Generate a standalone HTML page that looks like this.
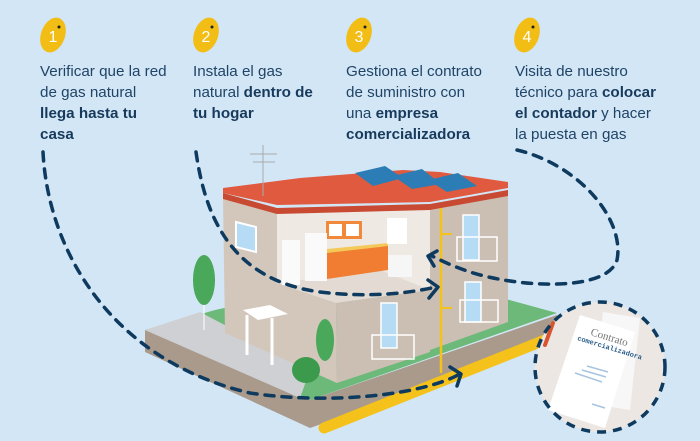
<!DOCTYPE html>
<html><head><meta charset="utf-8"><style>
html,body{margin:0;padding:0}
body{width:700px;height:441px;overflow:hidden;background:#d3e6f6;font-family:"Liberation Sans",sans-serif;position:relative}
.col{position:absolute;top:61px;font-size:15.2px;line-height:21px;color:#1f4466}
.col b{color:#173a5c}
svg{position:absolute;left:0;top:0}
</style></head><body>
<svg width="700" height="441" viewBox="0 0 700 441">
<g fill="#f2bd14">
<ellipse cx="53" cy="35" rx="12" ry="18" transform="rotate(20 53 35)"/>
<ellipse cx="206" cy="35" rx="12" ry="18" transform="rotate(20 206 35)"/>
<ellipse cx="359" cy="35" rx="12" ry="18" transform="rotate(20 359 35)"/>
<ellipse cx="527" cy="35" rx="12" ry="18" transform="rotate(20 527 35)"/>
</g>
<g fill="#fff" font-size="16" font-family="Liberation Sans" text-anchor="middle">
<text x="53" y="42">1</text><text x="206" y="42">2</text><text x="359" y="42">3</text><text x="527" y="42">4</text>
</g>
<g fill="#222"><circle cx="59" cy="27" r="1.5"/><circle cx="212" cy="27" r="1.5"/><circle cx="365" cy="27" r="1.5"/><circle cx="533" cy="27" r="1.5"/></g>

<polygon points="145,330 310,400 557,315 557,340 310,428 145,352" fill="#a99a8b"/>
<polygon points="145,330 215,310 400,270 557,313 310,400" fill="#6cb97a"/>
<polygon points="145,330 200,312 310,370 300,398" fill="#cfd0d4"/>
<line x1="324" y1="428" x2="545" y2="340" stroke="#f5c21b" stroke-width="11" stroke-linecap="round"/>
<polygon points="223,198 277,212 277,283 336,303 337,383 225,333" fill="#d3c7bc"/>
<polygon points="277,212 430,206 430,290 336,303 277,283" fill="#efe9e3"/>
<polygon points="277,283 380,270 430,290 336,303" fill="#e3dbd3"/>
<rect x="326" y="221" width="36" height="18" fill="#f08a3a"/>
<rect x="329" y="224" width="13" height="12" fill="#fff"/><rect x="346" y="224" width="13" height="12" fill="#fff"/>
<polygon points="327,249 388,243 388,247 327,254" fill="#f5c85a"/>
<polygon points="327,253 388,246 388,270 327,279" fill="#f07d32"/>
<rect x="305" y="233" width="22" height="48" fill="#fafafa"/>
<rect x="282" y="240" width="18" height="45" fill="#fafafa"/>
<rect x="388" y="255" width="24" height="22" fill="#f6f6f6"/>
<rect x="387" y="218" width="20" height="26" fill="#fff"/>
<polygon points="336,303 430,290 430,352 337,383" fill="#cbbfb4"/>
<polygon points="430,206 508,190 508,322 430,350" fill="#cbbfb4"/>
<polygon points="223,193 277,205 430,202 508,188 508,182 440,172 403,170 300,178 223,188" fill="#e05a40"/>
<polygon points="223,193 277,208 430,204 508,190 508,196 430,210 277,214 223,199" fill="#c84a32"/>
<polygon points="355,173 385,166 403,178 373,186" fill="#2c7db5"/>
<polygon points="393,176 422,169 441,184 412,189" fill="#2c7db5"/>
<polygon points="428,180 458,173 477,186 447,192" fill="#2c7db5"/>
<line x1="263" y1="145" x2="263" y2="196" stroke="#aaa" stroke-width="1"/>
<line x1="250" y1="154" x2="277" y2="154" stroke="#aaa"/><line x1="253" y1="162" x2="275" y2="162" stroke="#aaa"/>
<polygon points="236,222 256,227 256,252 236,247" fill="#b6dcf5" stroke="#fff" stroke-width="2"/>
<rect x="463" y="215" width="16" height="45" fill="#b6dcf5" stroke="#fff" stroke-width="1.5"/>
<rect x="465" y="282" width="16" height="40" fill="#b6dcf5" stroke="#fff" stroke-width="1.5"/>
<rect x="381" y="303" width="16" height="45" fill="#b6dcf5" stroke="#fff" stroke-width="1.5"/>
<g stroke="#fff" stroke-width="1.5" fill="none">
<rect x="457" y="237" width="40" height="24"/><rect x="460" y="300" width="38" height="22"/><rect x="372" y="335" width="42" height="24"/>
</g>
<polygon points="243,310 270,305 288,314 258,320" fill="#fff"/>
<line x1="247" y1="315" x2="247" y2="355" stroke="#fff" stroke-width="3"/><line x1="272" y1="318" x2="272" y2="365" stroke="#fff" stroke-width="3"/>
<line x1="204" y1="290" x2="204" y2="330" stroke="#fff"/>
<ellipse cx="204" cy="280" rx="11" ry="25" fill="#4aa85a"/>
<ellipse cx="325" cy="340" rx="9" ry="21" fill="#4aa85a"/>
<ellipse cx="306" cy="370" rx="14" ry="13" fill="#3c9a4c"/>
<line x1="441" y1="208" x2="441" y2="373" stroke="#f5c21b" stroke-width="2.5"/>
<line x1="441" y1="234" x2="452" y2="234" stroke="#f5c21b" stroke-width="2"/>
<line x1="441" y1="308" x2="452" y2="308" stroke="#f5c21b" stroke-width="2"/>

<circle cx="600" cy="367" r="65" fill="#ece7e2"/>
<polygon points="603,312 640,318 630,410 592,404" fill="#f7f7f7"/>
<polygon points="580,315 635,332 605,428 548,410" fill="#fff"/>
<line x1="545" y1="345" x2="553" y2="323" stroke="#d9532c" stroke-width="4" stroke-linecap="round"/>
<text x="590" y="335" font-family="Liberation Serif" font-size="11" fill="#777" transform="rotate(17 590 335)">Contrato</text>
<text x="577" y="340" font-family="Liberation Mono" font-size="7" font-weight="bold" fill="#2a5e8a" transform="rotate(17 577 340)">comercializadora</text>
<g stroke="#a7c4e0" stroke-width="1.5"><line x1="587" y1="366" x2="608" y2="372"/><line x1="582" y1="370" x2="606" y2="377"/><line x1="575" y1="373" x2="602" y2="382"/><line x1="592" y1="404" x2="605" y2="408"/></g>
<circle cx="600" cy="367" r="65" fill="none" stroke="#0d3a5e" stroke-width="3.5" stroke-dasharray="9 7"/>

<g fill="none" stroke="#0d3a5e" stroke-width="3.5" stroke-linecap="round" stroke-dasharray="9 8">
<path d="M43,152 C48,250 110,360 250,393 C330,405 420,395 458,375"/>
<path d="M196,152 C205,215 230,280 320,292 C370,298 410,293 436,287"/>
<path d="M517,150 C580,165 625,220 617,260 C607,292 520,288 470,272 C452,266 440,260 432,256"/>
</g>
<g fill="none" stroke="#0d3a5e" stroke-width="3.5" stroke-linecap="round" stroke-linejoin="round">
<polyline points="450,367 461,374 457,386"/>
<polyline points="428,280 438,287 429,298"/>
<polyline points="437,251 428,256 434,266"/>
</g>
</svg>
<div class="col" style="left:40px">Verificar que la red<br>de gas natural<br><b>llega hasta tu<br>casa</b></div>
<div class="col" style="left:193px">Instala el gas<br>natural <b>dentro de<br>tu hogar</b></div>
<div class="col" style="left:346px">Gestiona el contrato<br>de suministro con<br>una <b>empresa<br>comercializadora</b></div>
<div class="col" style="left:515px">Visita de nuestro<br>técnico para <b>colocar<br>el contador</b> y hacer<br>la puesta en gas</div>
</body></html>
